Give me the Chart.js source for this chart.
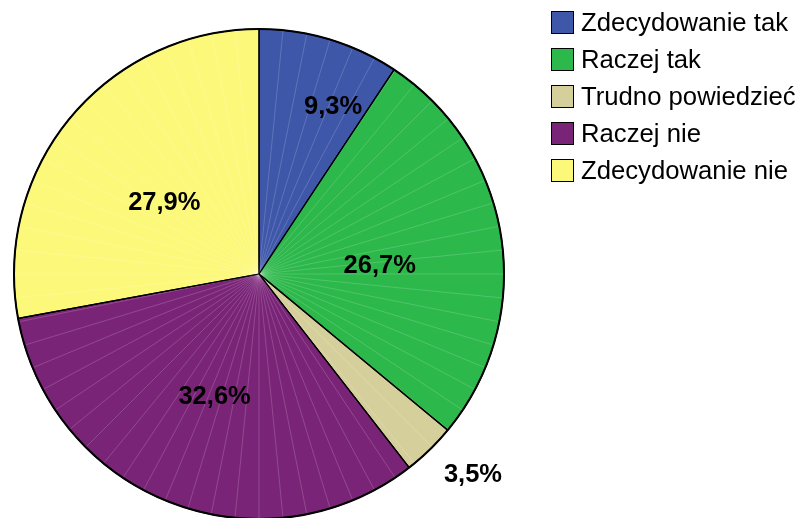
<!DOCTYPE html>
<html>
<head>
<meta charset="utf-8">
<script src="https://cdn.jsdelivr.net/npm/chart.js@4.4.1/dist/chart.umd.min.js"></script>
<style>
  html, body { margin:0; padding:0; background:#fff; }
  #wrap { width:805px; height:518px; }
</style>
</head>
<body>
<div id="wrap"><canvas id="pieChart" width="805" height="518"></canvas></div>
<script>
const categories = ['Zdecydowanie tak','Raczej tak','Trudno powiedzieć','Raczej nie','Zdecydowanie nie'];
const percents   = [9.3, 26.7, 3.5, 32.6, 27.9];
const colors     = ['#3E57A9','#2DB84B','#D5CF9C','#7A2478','#FCF87A'];
// label placement: extra angle (deg) and distance (px) from centre
const labelAngleShift = [7, 4.2, -2.8, -0.9, -2.5];
const labelDist       = [184, 121, 293, 130, 119];

const fmt = v => v.toFixed(1).replace('.', ',') + '%';

const facetLines = {
  id:'facetLines',
  afterDatasetsDraw(chart){
    const arc = chart.getDatasetMeta(0).data[0];
    const c = chart.ctx;
    c.save();
    c.strokeStyle = 'rgba(255,255,255,0.17)';
    c.lineWidth = 1;
    for(let a = 0; a < 360; a += 5.625){
      const r = (a - 90) * Math.PI / 180;
      c.beginPath();
      c.moveTo(arc.x, arc.y);
      c.lineTo(arc.x + Math.cos(r) * (arc.outerRadius - 1), arc.y + Math.sin(r) * (arc.outerRadius - 1));
      c.stroke();
    }
    // redraw borders over the lines
    chart.getDatasetMeta(0).data.forEach(el => {
      c.strokeStyle = '#000';
      c.lineWidth = 1.2;
      c.beginPath();
      c.moveTo(el.x, el.y);
      c.lineTo(el.x + Math.cos(el.startAngle) * el.outerRadius, el.y + Math.sin(el.startAngle) * el.outerRadius);
      c.stroke();
    });
    c.lineWidth = 2;
    c.beginPath();
    c.arc(arc.x, arc.y, arc.outerRadius, 0, Math.PI * 2);
    c.stroke();
    c.restore();
  }
};

const pctLabels = {
  id:'pctLabels',
  afterDraw(chart){
    const c = chart.ctx;
    const meta = chart.getDatasetMeta(0);
    c.save();
    c.font = 'bold 25.5px "Liberation Sans", Arial, sans-serif';
    c.fillStyle = '#000';
    c.textAlign = 'center';
    c.textBaseline = 'middle';
    meta.data.forEach((el, i) => {
      const mid = (el.startAngle + el.endAngle) / 2 + labelAngleShift[i] * Math.PI / 180;
      c.fillText(fmt(percents[i]), el.x + Math.cos(mid) * labelDist[i], el.y + Math.sin(mid) * labelDist[i] + 1);
    });
    c.restore();
  }
};

const sideLegend = {
  id:'sideLegend',
  afterDraw(chart){
    const c = chart.ctx;
    c.save();
    c.font = '25.7px "Liberation Sans", Arial, sans-serif';
    c.textBaseline = 'middle';
    categories.forEach((name, i) => {
      const y = 11 + i * 37;
      c.fillStyle = colors[i];
      c.fillRect(551, y, 23, 23);
      c.strokeStyle = '#000';
      c.lineWidth = 1;
      c.strokeRect(551.5, y + 0.5, 22, 22);
      c.fillStyle = '#000';
      c.fillText(name, 581, y + 12.5);
    });
    c.restore();
  }
};

new Chart(document.getElementById('pieChart').getContext('2d'), {
  type:'pie',
  data:{
    labels: categories,
    datasets:[{
      data: percents,
      backgroundColor: colors,
      borderColor:'#000',
      borderWidth:1.2,
      radius:245
    }]
  },
  options:{
    responsive:false,
    animation:false,
    layout:{ padding:{ left:0, right:287, top:30, bottom:0 } },
    plugins:{ legend:{ display:false }, tooltip:{ enabled:false } }
  },
  plugins:[facetLines, pctLabels, sideLegend]
});
</script>
</body>
</html>
